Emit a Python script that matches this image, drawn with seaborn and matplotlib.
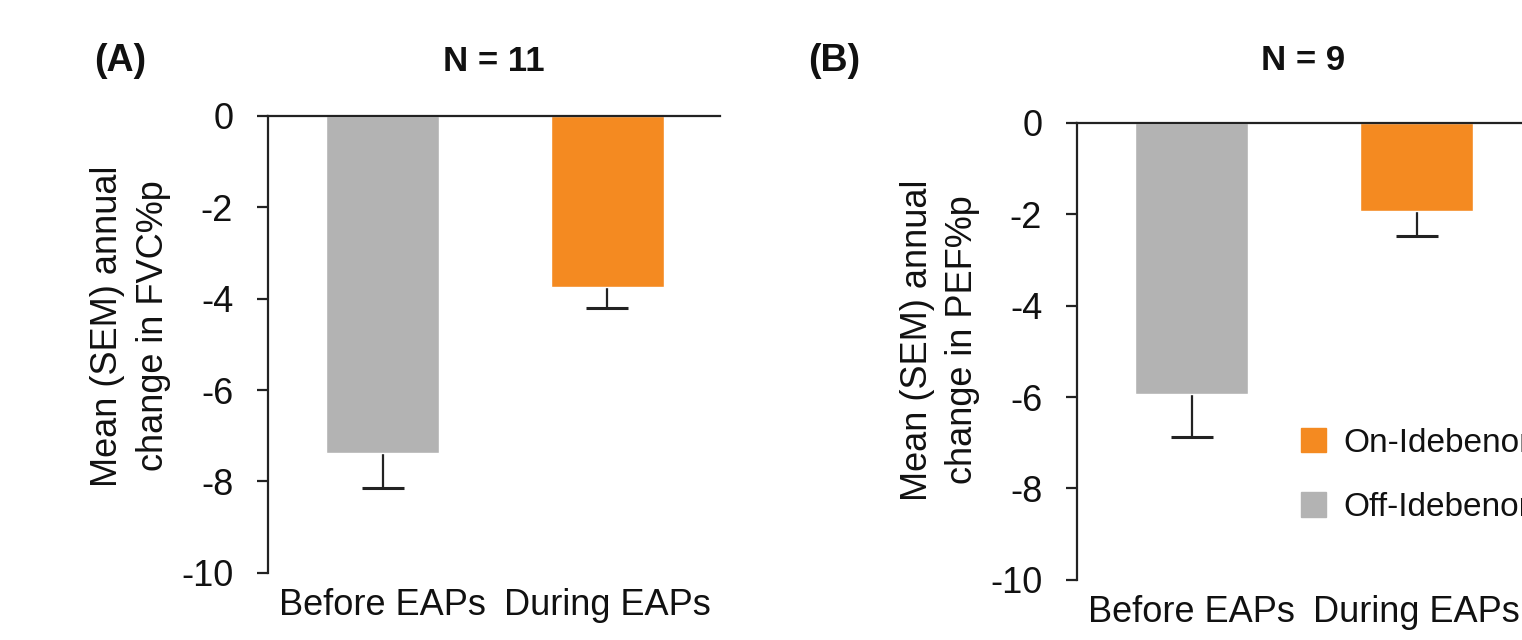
import matplotlib
matplotlib.use("Agg")
import matplotlib.pyplot as plt
import matplotlib.patches as mpatches
import seaborn as sns
import pandas as pd

# values
periods = ["Before EAPs", "During EAPs"]
status = ["Off-Idebenone", "On-Idebenone"]
fvc_mean = [-7.37, -3.74]
fvc_sem = [0.77, 0.46]
pef_mean = [-5.93, -1.93]
pef_sem = [0.94, 0.54]
titles = ["N = 11", "N = 9"]
ylabels = ["Mean (SEM) annual\nchange in FVC%p", "Mean (SEM) annual\nchange in PEF%p"]
panel_tags = ["(A)", "(B)"]

colors = {"Off-Idebenone": "#b3b3b3", "On-Idebenone": "#f48a21"}

sns.set_style("white")
plt.rcParams["font.family"] = ["Liberation Sans", "DejaVu Sans"]
plt.rcParams["text.color"] = "#111111"
plt.rcParams["xtick.color"] = "#111111"
plt.rcParams["ytick.color"] = "#111111"

fig = plt.figure(figsize=(15.22, 6.4), dpi=100)
ax_a = fig.add_axes([0.176, 0.105, 0.297, 0.714])
ax_b = fig.add_axes([0.7076, 0.094, 0.297, 0.714])


def draw_panel(ax, means, sems, title, ylabel, title_pad, label_y):
    df = pd.DataFrame({"Period": periods, "Value": means, "Status": status})
    sns.barplot(data=df, x="Period", y="Value", hue="Status", palette=colors,
                saturation=1, dodge=False, width=0.5, legend=False, ax=ax,
                zorder=2)
    # error bars sit behind the bars so only the lower half shows
    ax.errorbar(range(len(periods)), means, yerr=sems, fmt="none",
                ecolor="#222222", elinewidth=1.6, capsize=15, capthick=2.2,
                zorder=1)
    ax.set_ylim(-10, 0)
    ax.set_xlim(-0.51, 1.5)
    ax.set_yticks([0, -2, -4, -6, -8, -10])
    ax.set_yticklabels(["0", "-2", "-4", "-6", "-8", "-10"])
    for side in ["right", "bottom"]:
        ax.spines[side].set_visible(False)
    for side in ["left", "top"]:
        ax.spines[side].set_visible(True)
        ax.spines[side].set_color("#222222")
        ax.spines[side].set_linewidth(1.6)
    ax.tick_params(axis="y", direction="out", length=8, width=1.6,
                   color="#222222", labelsize=26, pad=17, left=True)
    ax.tick_params(axis="x", length=0, labelsize=26, pad=11)
    ax.set_xlabel("")
    ax.set_ylabel(ylabel, fontsize=26, linespacing=1.38, color="#111111")
    ax.yaxis.set_label_coords(-0.215, label_y)
    ax.set_title(title, fontsize=25, fontweight="bold", pad=title_pad)


draw_panel(ax_a, fvc_mean, fvc_sem, titles[0], ylabels[0], 32, 0.54)
draw_panel(ax_b, pef_mean, pef_sem, titles[1], ylabels[1], 38, 0.525)

handles = [mpatches.Patch(color=colors["On-Idebenone"], label="On-Idebenone"),
           mpatches.Patch(color=colors["Off-Idebenone"], label="Off-Idebenone")]
ax_b.legend(handles=handles, loc="upper left", bbox_to_anchor=(0.467, 0.362),
            frameon=False, fontsize=24, handlelength=0.75, handleheight=0.75,
            handletextpad=0.5, labelspacing=1.0, borderaxespad=0)

fig.text(0.062, 0.905, panel_tags[0], fontsize=27, fontweight="bold", va="center")
fig.text(0.531, 0.905, panel_tags[1], fontsize=27, fontweight="bold", va="center")

fig.savefig("out.png", dpi=100)
